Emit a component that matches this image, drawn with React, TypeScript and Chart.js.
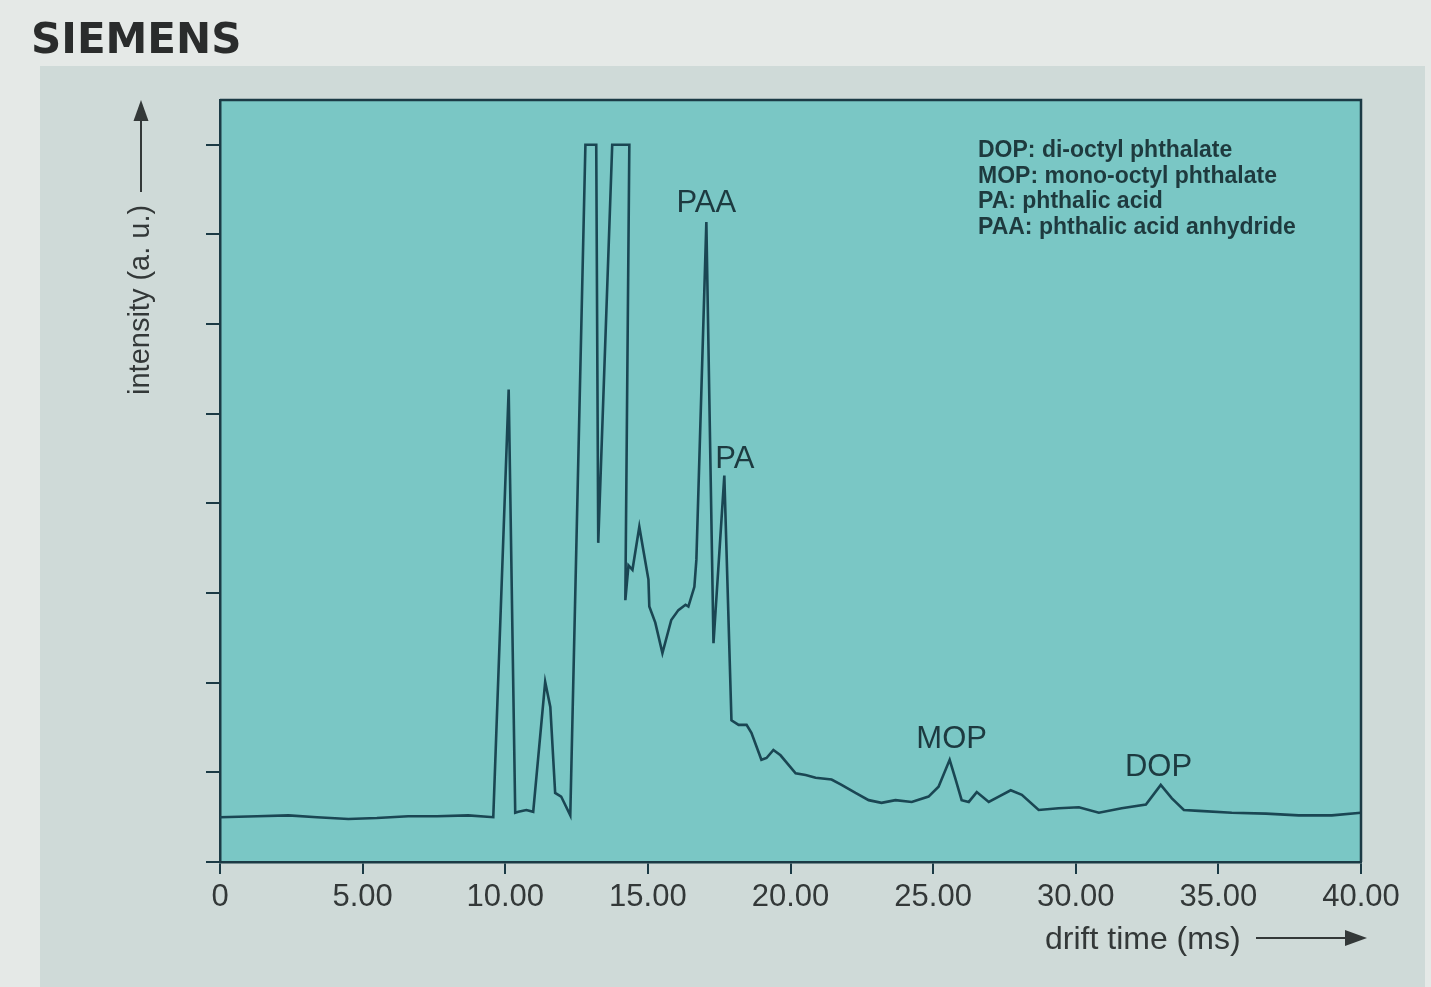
import React, { useEffect, useRef } from 'react';
import { Chart, registerables } from 'chart.js';

Chart.register(...registerables);

// ---- data (drift time in ms, intensity in a.u.) ----
const driftTime = [
  0, 1.3, 2.4, 3.4, 4.5, 5.5, 6.6, 7.6, 8.7, 9.58,
  10.12, 10.35, 10.46, 10.74, 10.98, 11.40, 11.58, 11.75, 11.96, 12.28,
  12.81, 13.19, 13.26, 13.75, 14.35, 14.21, 14.32, 14.46, 14.70, 14.84,
  15.02, 15.05, 15.26, 15.51, 15.82, 16.07, 16.32, 16.42, 16.63, 16.70,
  17.05, 17.30, 17.68, 17.93, 18.18, 18.46, 18.63, 18.98, 19.16, 19.40,
  19.65, 20.18, 20.53, 20.88, 21.44, 21.79, 22.28, 22.74, 23.19, 23.68,
  24.25, 24.84, 25.19, 25.58, 25.79, 26.00, 26.25, 26.53, 26.95, 27.30,
  27.72, 28.11, 28.70, 29.40, 30.11, 30.81, 31.61, 32.46, 32.98, 33.37,
  33.79, 34.32, 35.47, 36.67, 37.82, 38.98, 40.0,
];
const intensity = [
  0.50, 0.51, 0.52, 0.50, 0.48, 0.49, 0.51, 0.51, 0.52, 0.50,
  5.27, 0.55, 0.56, 0.58, 0.56, 2.01, 1.73, 0.77, 0.73, 0.52,
  8.0, 8.0, 3.56, 8.0, 8.0, 2.92, 3.31, 3.26, 3.74, 3.48,
  3.15, 2.85, 2.67, 2.33, 2.70, 2.81, 2.87, 2.85, 3.07, 3.37,
  7.14, 2.44, 4.31, 1.58, 1.53, 1.53, 1.44, 1.14, 1.16, 1.25,
  1.19, 0.99, 0.97, 0.94, 0.92, 0.86, 0.77, 0.69, 0.66, 0.69,
  0.67, 0.73, 0.84, 1.14, 0.92, 0.69, 0.67, 0.78, 0.67, 0.73,
  0.80, 0.75, 0.58, 0.60, 0.61, 0.55, 0.60, 0.64, 0.86, 0.71,
  0.58, 0.57, 0.55, 0.54, 0.52, 0.52, 0.55,
];

const xTickLabels = ['0', '5.00', '10.00', '15.00', '20.00', '25.00', '30.00', '35.00', '40.00'];

const peakNames = ['PAA', 'PA', 'MOP', 'DOP'];
const peakLabelTime = [17.05, 18.05, 25.65, 32.9];
const peakLabelLevel = [7.25, 4.39, 1.27, 0.96];

const legendLines = [
  'DOP: di-octyl phthalate',
  'MOP: mono-octyl phthalate',
  'PA: phthalic acid',
  'PAA: phthalic acid anhydride',
];

const brandName = 'SIEMENS';
const yAxisTitle = 'intensity (a. u.)';
const xAxisTitle = 'drift time (ms)';

// ---- styles ----
const SANS = '"Liberation Sans", Arial, sans-serif';
const INK = '#1a4653';
const AXIS = '#1b3a45';
const PLOT_BG = '#7ac7c5';
const PAGE_BG = '#e5e9e7';
const PANEL_BG = '#cfdad8';
const TEXT_DARK = '#333838';

const decorPlugin = {
  id: 'decor',
  beforeDraw(chart: any) {
    const { ctx, chartArea, width, height } = chart;
    ctx.save();
    ctx.fillStyle = PAGE_BG;
    ctx.fillRect(0, 0, width, height);
    ctx.fillStyle = PANEL_BG;
    ctx.fillRect(40, 66, width - 46, height - 66);
    ctx.fillStyle = PLOT_BG;
    ctx.fillRect(chartArea.left, chartArea.top, chartArea.right - chartArea.left, chartArea.bottom - chartArea.top);
    ctx.restore();
  },
  afterDatasetsDraw(chart: any) {
    const { ctx, chartArea } = chart;
    const xs = chart.scales.x;
    const ys = chart.scales.y;
    ctx.save();
    // top and right frame
    ctx.strokeStyle = AXIS;
    ctx.lineWidth = 2.5;
    ctx.beginPath();
    ctx.moveTo(chartArea.left, chartArea.top);
    ctx.lineTo(chartArea.right, chartArea.top);
    ctx.lineTo(chartArea.right, chartArea.bottom);
    ctx.stroke();

    // peak labels
    ctx.fillStyle = '#1d3a40';
    ctx.font = `31px ${SANS}`;
    ctx.textAlign = 'center';
    ctx.textBaseline = 'alphabetic';
    peakNames.forEach((name, i) => {
      ctx.fillText(name, xs.getPixelForValue(peakLabelTime[i]), ys.getPixelForValue(peakLabelLevel[i]));
    });

    // legend text block
    ctx.font = `bold 23px ${SANS}`;
    ctx.textAlign = 'left';
    ctx.textBaseline = 'middle';
    ctx.fillStyle = '#1e3a3e';
    legendLines.forEach((line, i) => {
      ctx.fillText(line, chartArea.left + 758, chartArea.top + 51 + i * 25.5);
    });

    // brand
    ctx.fillStyle = '#2a2c2c';
    ctx.font = `bold 42px "DejaVu Sans", ${SANS}`;
    ctx.textAlign = 'left';
    ctx.textBaseline = 'alphabetic';
    ctx.fillText(brandName, 31, 53);

    // y axis title with arrow
    ctx.fillStyle = TEXT_DARK;
    ctx.strokeStyle = TEXT_DARK;
    ctx.save();
    ctx.translate(141, 395);
    ctx.rotate(-Math.PI / 2);
    ctx.font = `29px ${SANS}`;
    ctx.textAlign = 'left';
    ctx.textBaseline = 'middle';
    ctx.fillText(yAxisTitle, 0, 0);
    ctx.restore();
    ctx.lineWidth = 2;
    ctx.beginPath();
    ctx.moveTo(141, 192);
    ctx.lineTo(141, 116);
    ctx.stroke();
    ctx.beginPath();
    ctx.moveTo(141, 100);
    ctx.lineTo(133.5, 121);
    ctx.lineTo(148.5, 121);
    ctx.closePath();
    ctx.fill();

    // x axis title with arrow
    ctx.font = `32px ${SANS}`;
    ctx.textAlign = 'left';
    ctx.textBaseline = 'middle';
    ctx.fillText(xAxisTitle, 1045, 940);
    ctx.beginPath();
    ctx.moveTo(1256, 938);
    ctx.lineTo(1350, 938);
    ctx.stroke();
    ctx.beginPath();
    ctx.moveTo(1367, 938);
    ctx.lineTo(1345, 930);
    ctx.lineTo(1345, 946);
    ctx.closePath();
    ctx.fill();

    ctx.restore();
  },
};

export default function App() {
  const canvasRef = useRef<HTMLCanvasElement | null>(null);

  useEffect(() => {
    if (!canvasRef.current) return;
    const points = driftTime.map((t, i) => ({ x: t, y: intensity[i] }));
    const chart = new Chart(canvasRef.current, {
      type: 'line',
      data: {
        datasets: [
          {
            data: points,
            borderColor: INK,
            borderWidth: 2.6,
            pointRadius: 0,
            tension: 0,
            fill: false,
          },
        ],
      },
      options: {
        animation: false,
        responsive: true,
        maintainAspectRatio: false,
        devicePixelRatio: 1,
        layout: { padding: { left: 200, top: 100, right: 70, bottom: 65 } },
        plugins: {
          legend: { display: false },
          tooltip: { enabled: false },
          title: { display: false },
        },
        scales: {
          x: {
            type: 'linear',
            min: 0,
            max: 40,
            afterFit: (s: any) => {
              s.height = 60;
            },
            border: { display: true, color: AXIS, width: 2.5 },
            grid: {
              display: true,
              drawOnChartArea: false,
              drawTicks: true,
              tickLength: 12,
              color: AXIS,
              lineWidth: 2,
            },
            ticks: {
              stepSize: 5,
              autoSkip: false,
              maxRotation: 0,
              padding: 5,
              color: TEXT_DARK,
              font: { family: SANS, size: 31 },
              callback: (_v: any, i: number) => xTickLabels[i],
            },
          },
          y: {
            type: 'linear',
            min: 0,
            max: 8.5,
            afterFit: (s: any) => {
              s.width = 20;
            },
            border: { display: true, color: AXIS, width: 2.5 },
            grid: {
              display: true,
              drawOnChartArea: false,
              drawTicks: true,
              tickLength: 14,
              color: AXIS,
              lineWidth: 2,
            },
            ticks: {
              stepSize: 1,
              includeBounds: false,
              display: false,
            },
          },
        },
      },
      plugins: [decorPlugin],
    } as any);
    return () => chart.destroy();
  }, []);

  return (
    <div style={{ position: 'absolute', left: 0, top: 0, width: 1431, height: 987 }}>
      <canvas ref={canvasRef} />
    </div>
  );
}
